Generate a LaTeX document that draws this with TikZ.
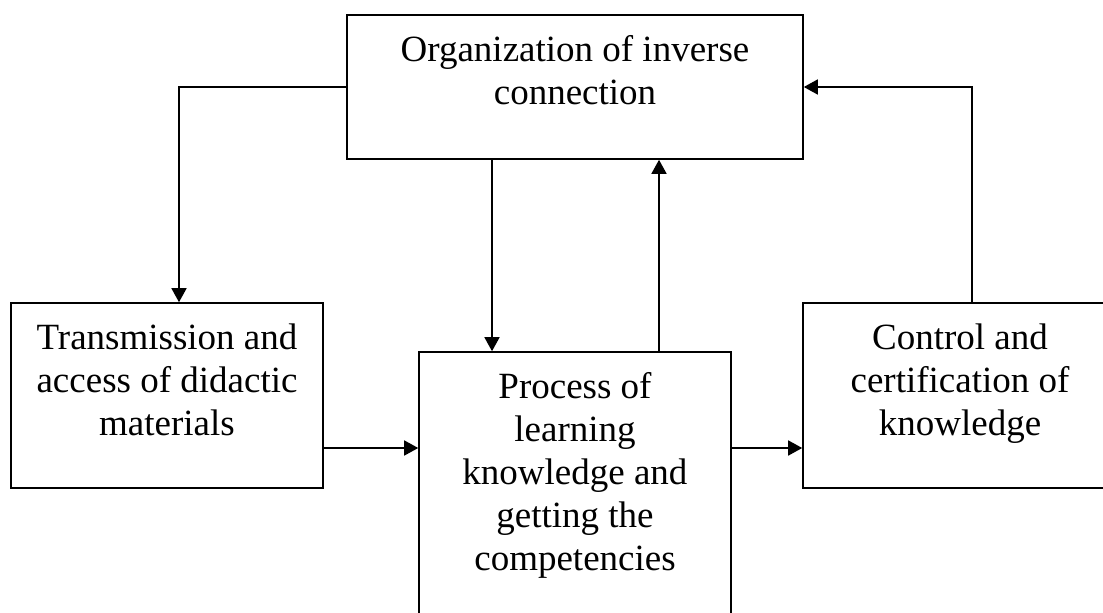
\documentclass[tikz,border=0pt]{standalone}
\usepackage{fontspec}
\setmainfont{Liberation Serif}
\usetikzlibrary{positioning}
\usetikzlibrary{arrows.meta}

\tikzset{
  stage/.style={draw, line width=1.6pt, inner sep=0pt, font=\fontsize{37}{43}\selectfont},
  flow/.style={line width=1.6pt, -{Triangle[length=14pt,width=15pt]}}
}
\newcommand{\stagetext}[3]{\parbox[c][#2][t]{#1}{\centering\rule{0pt}{46pt}#3}}

\begin{document}
\begin{tikzpicture}[x=1pt, y=-1pt]
 \clip (0,0) rectangle (1103,613);

 %boxes
 \node[stage] (inv) at (575,87) {\stagetext{456pt}{144pt}{Organization of inverse\\connection}};
 \node[stage] (trans) at (167,395.5) {\stagetext{312pt}{185pt}{Transmission and\\access of didactic\\materials}};
 \node[stage] (learn) at (575,501) {\stagetext{312pt}{298pt}{Process of\\learning\\knowledge and\\getting the\\competencies}};
 \node[stage] (ctrl) at (960,395.5) {\stagetext{314pt}{185pt}{Control and\\certification of\\knowledge}};

 %arrows
 \coordinate (lvl) at (0,448);
 \coordinate (down) at ([xshift=-83pt]inv.south);
 \coordinate (up) at ([xshift=84pt]learn.north);
 \draw[flow] (inv.west) -| ([xshift=12pt]trans.north);
 \draw[flow] (down) -- (down |- learn.north);
 \draw[flow] (up) -- (up |- inv.south);
 \draw[flow] ([xshift=12pt]ctrl.north) |- (inv.east);
 \draw[flow] (trans.east |- lvl) -- (learn.west |- lvl);
 \draw[flow] (learn.east |- lvl) -- (ctrl.west |- lvl);

\end{tikzpicture}
\end{document}
